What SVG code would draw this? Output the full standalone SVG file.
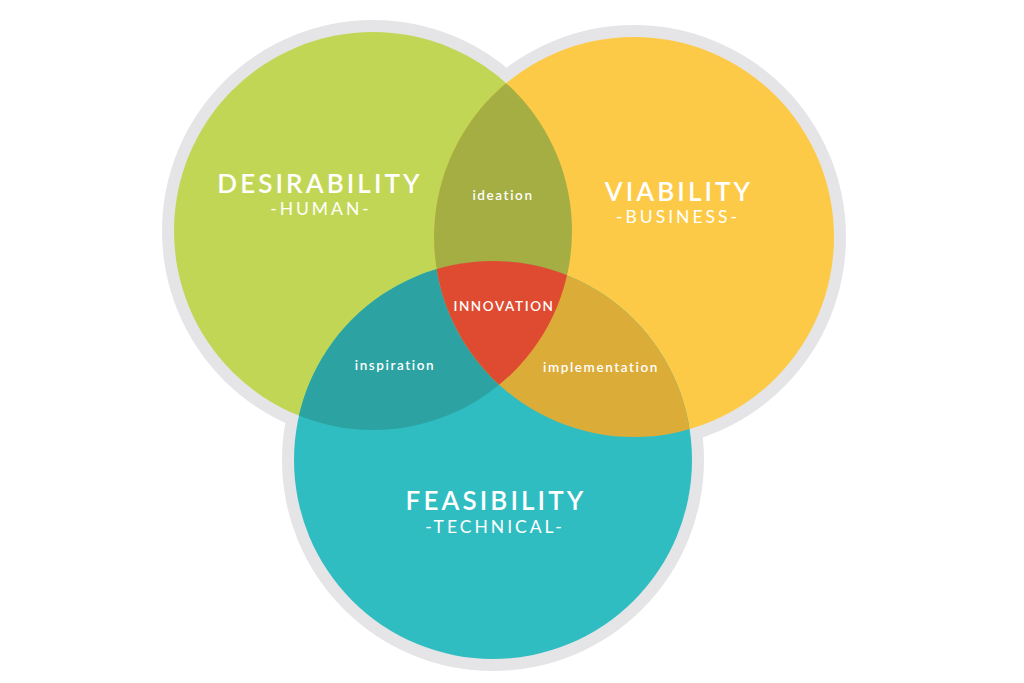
<svg xmlns="http://www.w3.org/2000/svg" width="1024" height="683" viewBox="0 0 1024 683">
<defs>
<style>
.ring{fill:#e5e5e7}
.t{font-family:Lato,"Open Sans","Liberation Sans",sans-serif;fill:#ffffff;text-anchor:middle}
.big{font-size:26px;font-weight:600;letter-spacing:3.1px}
.sub{font-size:17.5px;font-weight:400;letter-spacing:3px}
.sm{font-size:13.5px;font-weight:600;letter-spacing:1.6px}
</style>
<clipPath id="cG"><circle cx="373" cy="231" r="199"/></clipPath>
<clipPath id="cO"><circle cx="634" cy="237" r="200"/></clipPath>
<clipPath id="cT"><circle cx="493" cy="460" r="199"/></clipPath>
</defs>
<rect width="1024" height="683" fill="#ffffff"/>
<g id="ring">
<circle class="ring" cx="373" cy="231" r="211"/>
<circle class="ring" cx="634" cy="237" r="212"/>
<circle class="ring" cx="493" cy="460" r="211"/>
</g>
<g id="desirability">
<circle cx="373" cy="231" r="199" fill="#c2d655"/>
<text class="t big" x="320" y="193">DESIRABILITY</text>
<text class="t sub" x="321" y="215">-HUMAN-</text>
</g>
<g id="viability">
<circle cx="634" cy="237" r="200" fill="#fdca48"/>
<text class="t big" x="679" y="201">VIABILITY</text>
<text class="t sub" x="678" y="223">-BUSINESS-</text>
</g>
<g id="feasibility">
<circle cx="493" cy="460" r="199" fill="#30bdc2"/>
<text class="t big" x="496" y="510">FEASIBILITY</text>
<text class="t sub" x="495" y="533">-TECHNICAL-</text>
</g>
<g id="ideation">
<circle cx="634" cy="237" r="200" fill="#a4ae42" clip-path="url(#cG)"/>
<text class="t sm" x="503" y="200">ideation</text>
</g>
<g id="inspiration">
<circle cx="493" cy="460" r="199" fill="#2ca3a2" clip-path="url(#cG)"/>
<text class="t sm" x="395" y="370">inspiration</text>
</g>
<g id="implementation">
<circle cx="493" cy="460" r="199" fill="#dcac38" clip-path="url(#cO)"/>
<text class="t sm" x="601" y="372">implementation</text>
</g>
<g id="innovation">
<g clip-path="url(#cG)"><circle cx="493" cy="460" r="199" fill="#de4b30" clip-path="url(#cO)"/></g>
<text class="t sm" x="504" y="311">INNOVATION</text>
</g>
<g id="connectors"/>
</svg>
